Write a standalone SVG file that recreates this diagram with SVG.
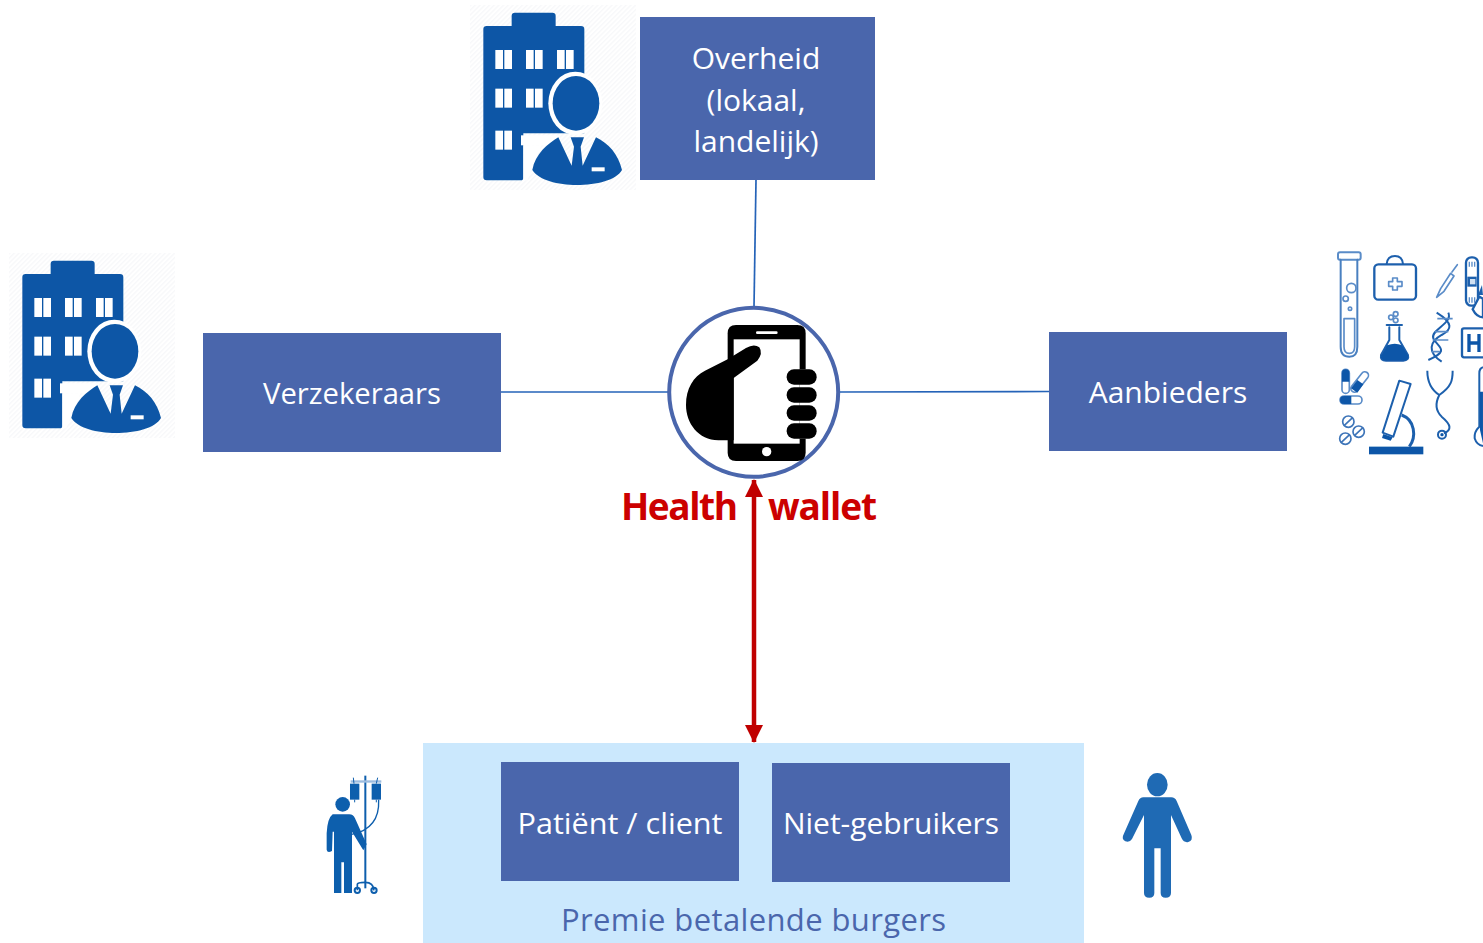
<svg xmlns="http://www.w3.org/2000/svg" width="1483" height="943" viewBox="0 0 1483 943">
<style>
.box{fill:#4a66ac}
.t{font-family:"Open Sans","Noto Sans","Liberation Sans",sans-serif;font-size:30px;fill:#fff;text-anchor:middle}
.p{fill:#4a66ac;font-size:31px}
.hw{font-family:"Open Sans","Noto Sans","Liberation Sans",sans-serif;font-size:37px;font-weight:700;fill:#cc0000}
.c{stroke:#2563b8;stroke-width:1.7;fill:none}
.m{fill:none;stroke:#1f60ad;stroke-width:6;stroke-linecap:round;stroke-linejoin:round}
.l{fill:none;stroke:#5a8cc8;stroke-width:5;stroke-linecap:round;stroke-linejoin:round}
.mf{fill:#0f57a8}
</style>
<defs>
<filter id="soft" x="-5%" y="-5%" width="110%" height="110%"><feGaussianBlur stdDeviation="0.9"/></filter>
<pattern id="hatch" width="10" height="10" patternUnits="userSpaceOnUse" patternTransform="rotate(-45)">
<rect width="10" height="10" fill="#fff"/><rect width="10" height="4" fill="#f7f8fa"/>
</pattern>
<marker id="ah" viewBox="0 0 18 18" refX="17" refY="9" markerWidth="18" markerHeight="18" markerUnits="userSpaceOnUse" orient="auto-start-reverse"><path d="M0,0L18,9L0,18Z" fill="#c00000"/></marker>
<g id="bld">
<rect x="0" y="15" width="498" height="555" fill="url(#hatch)"/>
<g filter="url(#soft)">
<path fill="#0b57a6" d="M50,78H125V48Q125,38 135,38H247Q257,38 257,48V78H333Q343,78 343,88V400H160V533Q160,541 152,541H50Q40,541 40,531V88Q40,78 50,78Z"/>
<g fill="#fff">
<rect x="76" y="150" width="23" height="57"/><rect x="103" y="150" width="23" height="57"/>
<rect x="168" y="150" width="23" height="57"/><rect x="195" y="150" width="23" height="57"/>
<rect x="261" y="150" width="23" height="57"/><rect x="288" y="150" width="23" height="57"/>
<rect x="76" y="266" width="23" height="57"/><rect x="103" y="266" width="23" height="57"/>
<rect x="168" y="266" width="23" height="57"/><rect x="195" y="266" width="23" height="57"/>
<rect x="76" y="392" width="23" height="57"/><rect x="103" y="392" width="23" height="57"/>
<rect x="153" y="406" width="115" height="30"/>
<ellipse cx="316" cy="310" rx="81" ry="95"/>
</g>
<ellipse cx="318" cy="310" rx="70" ry="82" fill="#0b57a6"/>
<path fill="#fff" d="M160,436H215L172,541H160Z"/>
<path fill="#0b57a6" d="M187,510C195,462 235,430 265,412L305,497L312,440L302,412H342L332,440L338,497L378,412C415,430 445,462 456,510C440,540 380,555 320,555C265,555 205,540 187,510Z"/>
<rect x="365" y="502" width="39" height="12" fill="#fff"/>
</g>
</g>
</defs>

<g id="connectors">
<path class="c" d="M756,180L754,307"/>
<path class="c" d="M501,392H669"/>
<path class="c" d="M839,392L1049,391.5"/>
<path d="M754,480V742" stroke="#c00000" stroke-width="4.5" fill="none" marker-start="url(#ah)" marker-end="url(#ah)"/>
</g>

<g id="burgers">
<rect x="423" y="743" width="661" height="200" fill="#cbe8fd"/>
<text class="t p" x="753.5" y="931" textLength="385">Premie betalende burgers</text>
</g>
<g id="overheid">
<rect class="box" x="640" y="17" width="235" height="163"/>
<text class="t" x="756" y="69">Overheid</text>
<text class="t" x="756" y="110.500">(lokaal,</text>
<text class="t" x="756" y="152">landelijk)</text>
</g>
<g id="verzekeraars">
<rect class="box" x="203" y="333" width="298" height="119"/>
<text class="t" x="352" y="404" textLength="178" lengthAdjust="spacingAndGlyphs">Verzekeraars</text>
</g>
<g id="aanbieders">
<rect class="box" x="1049" y="332" width="238" height="119"/>
<text class="t" x="1168" y="403">Aanbieders</text>
</g>
<g id="patient">
<rect class="box" x="501" y="762" width="238" height="119"/>
<text class="t" x="620" y="834" textLength="205" lengthAdjust="spacingAndGlyphs">Patiënt / client</text>
</g>
<g id="niet-gebruikers">
<rect class="box" x="772" y="763" width="238" height="119"/>
<text class="t" x="891" y="834">Niet-gebruikers</text>
</g>

<g id="wallet">
<circle cx="753.7" cy="392.3" r="84.5" fill="#fff" stroke="#4a66ac" stroke-width="4"/>
<g transform="translate(660,300) scale(.3333)" filter="url(#soft)">
<path d="M203,100Q203,75 228,75H412Q437,75 437,100V458Q437,483 412,483H228Q203,483 203,458Z"/>
<rect x="221" y="118" width="198" height="313" fill="#fff"/>
<rect x="419" y="208" width="19" height="208" fill="#fff"/>
<rect x="288" y="94" width="65" height="8" rx="4" fill="#fff"/>
<circle cx="320" cy="455" r="14" fill="#fff"/>
<path d="M203,178L258,144Q282,130 298,142Q310,160 292,182L221,234V421H175C115,420 78,370 78,315C78,265 100,230 135,212Z"/>
<rect x="380" y="208" width="90" height="46" rx="22"/>
<rect x="380" y="262" width="90" height="46" rx="22"/>
<rect x="380" y="316" width="90" height="46" rx="22"/>
<rect x="380" y="370" width="90" height="46" rx="22"/>
</g>
<text class="hw" x="621" y="520" textLength="117">Health</text>
<text class="hw" x="768" y="520" textLength="109">wallet</text>
</g>

<g id="overheid-icon"><use href="#bld" transform="translate(470,0) scale(.3333)"/></g>
<g id="verzekeraars-icon"><use href="#bld" transform="translate(9,248) scale(.3333)"/></g>

<g id="aanbieders-icon" transform="translate(1320,240) scale(.3333)" filter="url(#soft)">
<rect x="54" y="37" width="68" height="22" rx="6" class="m" style="stroke:#5a8cc8"/>
<path class="m" d="M62,59V320Q62,350 88,350Q112,350 112,320V59" style="stroke:#4a80c0"/>
<path d="M72,236H104V320Q104,340 88,340Q72,340 72,320Z" class="l"/>
<circle cx="94" cy="144" r="14" class="l"/><circle cx="77" cy="176" r="8" class="l"/><circle cx="90" cy="206" r="5" class="l"/>
<rect x="163" y="73" width="125" height="106" rx="12" fill="none" stroke="#1f60ad" stroke-width="7"/>
<path class="m" d="M200,72Q202,48 225,48Q247,48 249,72"/>
<path d="M218,114h14v11h14v14h-14v11h-14v-11h-12v-14h12z" class="l"/>
<path d="M350,172L362,146L392,100L402,108L372,154Z M396,96L412,74" class="l"/>
<rect x="438" y="52" width="36" height="145" rx="16" fill="none" stroke="#1f60ad" stroke-width="7"/>
<path d="M448,65V80M456,65V80M464,65V80M448,172V188M456,172V188M464,172V188" stroke="#5a8cc8" stroke-width="4"/>
<rect x="442" y="110" width="28" height="30" fill="#1f60ad"/>
<rect x="450" y="117" width="16" height="16" fill="#cfe0f2"/>
<path d="M458,208L478,170L489,176V232Q470,232 458,208Z" fill="#fff" stroke="#1f60ad" stroke-width="7"/>
<path d="M486,135L489,165H474Z" fill="#1f60ad"/>
<circle cx="213" cy="232" r="7" class="l"/><circle cx="227" cy="222" r="7" class="l"/><circle cx="227" cy="241" r="7" class="l"/>
<path class="m" d="M200,255H246M208,262V300L183,345Q180,362 198,362H250Q268,362 264,345L238,300V262"/>
<path d="M201,316Q225,306 246,316L264,346Q268,362 250,362H198Q180,362 184,346Z" class="mf"/>
<path d="M350,218C402,250 395,270 365,285C330,305 320,335 365,365" fill="none" stroke="#1f60ad" stroke-width="6"/>
<path d="M385,218C400,250 330,270 340,295C350,320 395,330 325,360" fill="none" stroke="#1f60ad" stroke-width="6"/>
<path d="M352,236H398M345,275H385M338,300H385M335,335H360" stroke="#5a8cc8" stroke-width="5"/>
<rect x="426" y="265" width="70" height="87" rx="6" fill="none" stroke="#1f60ad" stroke-width="7"/>
<path d="M447,282V336M477,282V336M447,309H477" stroke="#0f57a8" stroke-width="10" fill="none"/>
<rect x="66" y="388" width="22" height="72" rx="11" class="l"/><path d="M66,425V399Q66,388 77,388Q88,388 88,399V425Z" class="mf"/>
<rect x="108" y="390" width="22" height="72" rx="11" transform="rotate(38 119 426)" class="l"/><path d="M93,445L112,420L130,433L112,458Z" class="mf"/>
<rect x="60" y="468" width="66" height="24" rx="12" class="l"/><path d="M94,468H72Q60,468 60,480Q60,492 72,492H94Z" class="mf"/>
<circle cx="85" cy="545" r="17" class="l" style="stroke:#3d74b8"/><path d="M73,556L97,534" class="l" style="stroke:#3d74b8"/>
<circle cx="116" cy="575" r="17" class="l" style="stroke:#3d74b8"/><path d="M104,586L128,564" class="l" style="stroke:#3d74b8"/>
<circle cx="76" cy="596" r="17" class="l" style="stroke:#3d74b8"/><path d="M64,607L88,585" class="l" style="stroke:#3d74b8"/>
<rect x="147" y="620" width="163" height="23" class="mf"/>
<path d="M238,422L272,432L220,590L188,578Z" fill="none" stroke="#1f60ad" stroke-width="6" stroke-linejoin="round"/>
<path d="M190,582L218,592L212,602L186,594Z" class="mf"/>
<path d="M245,525C285,540 290,590 268,620" fill="none" stroke="#1f60ad" stroke-width="9"/>
<path d="M322,392C322,430 335,450 358,465C395,440 398,420 398,392" fill="none" stroke="#1f60ad" stroke-width="6"/>
<path d="M358,465C345,490 345,510 365,530C395,555 395,570 372,580" fill="none" stroke="#1f60ad" stroke-width="6"/>
<circle cx="366" cy="584" r="12" fill="none" stroke="#1f60ad" stroke-width="6"/><circle cx="366" cy="584" r="5" class="mf"/>
<path d="M489,382Q478,385 478,400V560Q462,575 464,595Q470,615 489,618" fill="none" stroke="#1f60ad" stroke-width="6"/>
<path d="M489,455H480V570L489,610Z" class="mf"/>
</g>

<g id="patient-icon" transform="translate(310,765) scale(.3333)" fill="#0f5ead" filter="url(#soft)">
<circle cx="98" cy="118" r="22"/>
<path d="M68,148H118Q130,148 135,160L170,238L160,256L126,200V384H102V292H94V384H72V200L68,200L66,258Q52,266 50,254V205Q52,160 68,148Z"/>
<rect x="163" y="32" width="6" height="338"/>
<rect x="122" y="46" width="92" height="7" fill="#9dbde0"/>
<rect x="120" y="56" width="28" height="48"/><rect x="185" y="56" width="28" height="48"/>
<path d="M134,104V112M199,104V112M132,56L130,38M199,56L203,38" stroke="#0f5ead" stroke-width="3"/>
<path d="M206,104C208,150 190,195 125,208" fill="none" stroke="#0f5ead" stroke-width="4"/>
<path d="M142,376V358Q142,352 166,352Q190,352 192,376" fill="none" stroke="#0f5ead" stroke-width="5"/>
<circle cx="142" cy="376" r="8" fill="none" stroke="#0f5ead" stroke-width="6"/><circle cx="192" cy="376" r="8" fill="none" stroke="#0f5ead" stroke-width="6"/>
</g>

<g id="burger-icon" transform="translate(1110,765) scale(.3333)" fill="#1f6ab4">
<ellipse cx="142" cy="59" rx="31" ry="35"/>
<path d="M100,97H184Q195,97 200,108L244,210Q250,226 235,231Q222,234 215,220L183,150V384Q183,398 167,398Q152,398 152,384V250H133V384Q133,398 118,398Q102,398 102,384V150L66,222Q58,234 46,229Q33,222 41,208L85,108Q90,97 100,97Z"/>
</g>
</svg>
